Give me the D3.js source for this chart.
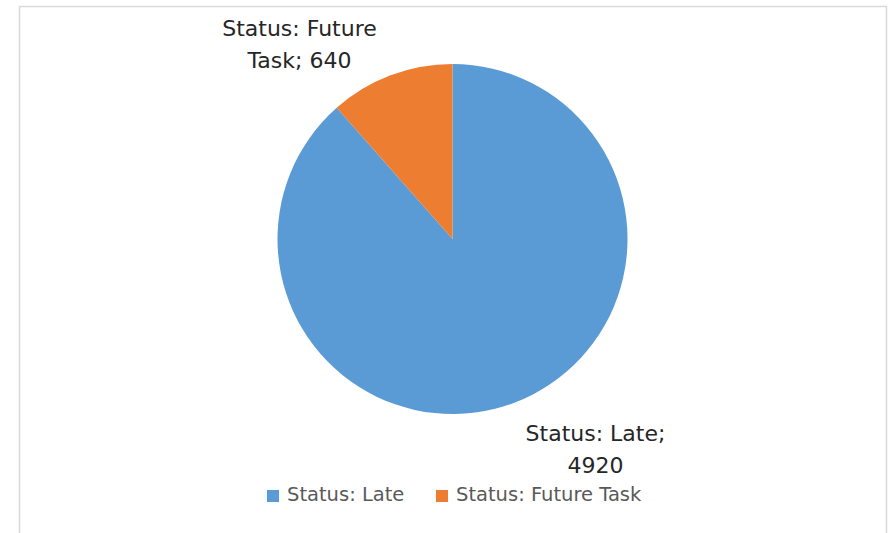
<!DOCTYPE html>
<html>
<head>
<meta charset="utf-8">
<script src="https://cdn.jsdelivr.net/npm/d3@7"></script>
<style>
  html, body { margin: 0; padding: 0; background: #fff; }
  svg { display: block; }
  text { font-family: "DejaVu Sans", "Open Sans", sans-serif; }
</style>
</head>
<body>
<svg id="chart" width="892" height="533"></svg>
<script>
// Task status counts
const categories = ["Status: Late", "Status: Future Task"];
const values = [4920, 640];
const labelLines = [["Status: Late;", "4920"], ["Status: Future", "Task; 640"]];
const colors = ["#5B9BD5", "#ED7D31"];

const svg = d3.select("#chart");

// chart frame
svg.append("rect")
  .attr("x", 19.5).attr("y", 6.5)
  .attr("width", 867).attr("height", 540)
  .attr("fill", "#fff")
  .attr("stroke", "#d9d9d9")
  .attr("stroke-width", 1.5);

const cx = 452.5, cy = 239, r = 175;

const pie = d3.pie().sort(null).value(d => d)(values);
const arc = d3.arc().innerRadius(0).outerRadius(r);

const color = d3.scaleOrdinal().domain(categories).range(colors);

const g = svg.append("g").attr("transform", `translate(${cx},${cy})`);
g.selectAll("path")
  .data(pie)
  .join("path")
  .attr("d", arc)
  .attr("fill", (d, i) => color(categories[i]));

// data labels placed outside the slices
const labelPos = [[143, 202], [-153, -203]];
const labels = g.selectAll("g.lbl")
  .data(pie)
  .join("g")
  .attr("class", "lbl")
  .attr("transform", (d, i) => `translate(${labelPos[i][0]},${labelPos[i][1]})`);
labels.each(function(d, i) {
  d3.select(this).selectAll("text")
    .data(labelLines[i])
    .join("text")
    .attr("text-anchor", "middle")
    .attr("y", (t, j) => j * 32)
    .attr("font-size", 22)
    .attr("fill", "#262626")
    .text(t => t);
});

// legend
const legend = svg.append("g").attr("transform", "translate(267,501)");
const items = [{x: 0}, {x: 169}];
categories.forEach((c, i) => {
  const it = legend.append("g").attr("transform", `translate(${items[i].x},0)`);
  it.append("rect").attr("x", 0).attr("y", -11).attr("width", 12).attr("height", 12)
    .attr("fill", color(c));
  it.append("text").attr("x", 20).attr("y", 0)
    .attr("font-size", 19.5).attr("fill", "#595959").text(c);
});
</script>
</body>
</html>
